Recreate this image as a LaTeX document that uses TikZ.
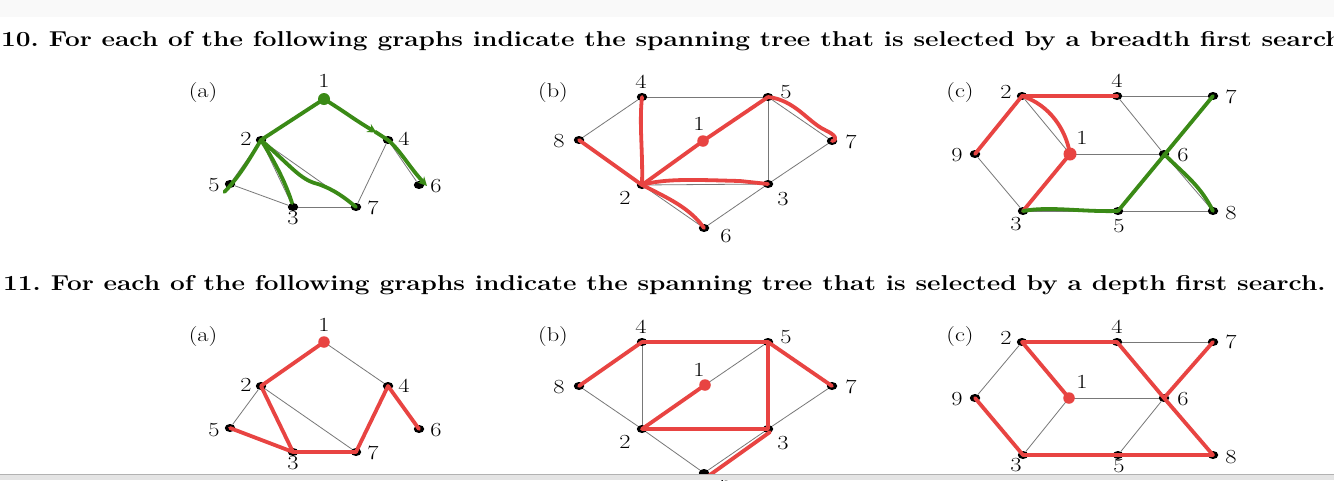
\documentclass[tikz,border=0pt]{standalone}
\usepackage{fontspec}
\setmainfont{Latin Modern Roman}[FakeStretch=1.22]
\usetikzlibrary{calc,arrows.meta,shapes.geometric}
\definecolor{hred}{RGB}{232,68,66}
\definecolor{hgrn}{RGB}{58,138,22}
\definecolor{edgegray}{RGB}{120,120,120}
\definecolor{topband}{RGB}{249,249,249}
\definecolor{botband}{RGB}{228,228,228}
\tikzset{
  dot/.style={ellipse, fill=black, inner sep=0pt, minimum width=10.5pt, minimum height=8pt},
  rootred/.style={circle, fill=hred, inner sep=0pt, minimum size=11.5pt},
  rootgrn/.style={circle, fill=hgrn, inner sep=0pt, minimum size=12pt},
  lab/.style={inner sep=0pt, font=\fontsize{20}{24}\selectfont},
  edge/.style={draw=edgegray, line width=0.8pt},
  rd/.style={draw=hred, line width=3.8pt, line cap=round, line join=round},
  gn/.style={draw=hgrn, line width=3.8pt, line cap=round, line join=round},
  qtext/.style={anchor=base west, inner sep=0pt, font=\fontsize{21.5}{26}\selectfont\bfseries},
}
\begin{document}
\begin{tikzpicture}[x=1pt,y=-1pt]
\useasboundingbox (0,0) rectangle (1334,480);
\clip (0,0) rectangle (1334,480);
\fill[white] (0,0) rectangle (1334,480);
\fill[topband] (0,0) rectangle (1334,17);

% question texts
\node[qtext] (q10) at (1,46) {10.\hspace{10pt}For each of the following graphs indicate the spanning tree that is selected by a breadth first search};
\node[qtext] (q11) at (3,290) {11.\hspace{10pt}For each of the following graphs indicate the spanning tree that is selected by a depth first search.};

% ================= 10(a) =================
\node[lab] (la) at (203,93) {(a)};
\node[dot] (A1) at (324,99) {};
\node[dot] (A2) at (261,140) {};
\node[dot] (A4) at (388,140) {};
\node[dot] (A5) at (230,184) {};
\node[dot] (A6) at (419,185) {};
\node[dot] (A3) at (293,207) {};
\node[dot] (A7) at (356,207) {};
\node[lab] at (324,81) {1};
\node[lab] at (246,139) {2};
\node[lab] at (404,139) {4};
\node[lab] at (214,185) {5};
\node[lab] at (436,186) {6};
\node[lab] at (293,218) {3};
\node[lab] at (373,208) {7};
\foreach \u/\v in {A1/A2,A1/A4,A2/A5,A2/A3,A2/A7,A5/A3,A3/A7,A7/A4,A4/A6}
  \draw[edge] (\u) -- (\v);
\draw[gn] (A1.center) -- (A2.center);
\draw[gn,-{Stealth[length=9pt,width=9pt]}] (A1.center) .. controls (345,112) and (355,120) .. ($(A1)!0.82!(A4)$);
\draw[gn] ($(A1)!0.8!(A4)$) -- (A4.center);
\draw[gn,-{Stealth[length=9pt,width=9pt]}] (A4.center) .. controls (400,150) and (410,168) .. ($(A6)+(8,1)$);
\draw[gn] (A2.center) .. controls (250,158) and (240,176) .. ($(A2)!1.18!(A5)$);
\draw[gn] (A2.center) .. controls (280,170) and (288,190) .. ($(A3)+(-1,-4)$);
\draw[gn] (A2.center) .. controls (290,165) and (300,180) .. (318,184) .. controls (335,190) and (345,198) .. (A7.center);
\node[rootgrn] at (A1) {};

% ================= 10(b) =================
\node[lab] (lb) at (553,93) {(b)};
\node[dot] (B4) at (642,97) {};
\node[dot] (B5) at (768,97) {};
\node[dot] (B8) at (579,140) {};
\node[dot] (B1) at (703,141) {};
\node[dot] (B7) at (832,141) {};
\node[dot] (B2) at (642,185) {};
\node[dot] (B3) at (768,184) {};
\node[dot] (B6) at (704,228) {};
\node[lab] at (641,82) {4};
\node[lab] at (786,92) {5};
\node[lab] at (559,141) {8};
\node[lab] at (699,124) {1};
\node[lab] at (851,142) {7};
\node[lab] at (625,198) {2};
\node[lab] at (783,199) {3};
\node[lab] at (726,236) {6};
\foreach \u/\v in {B4/B5,B4/B8,B4/B2,B8/B2,B2/B1,B1/B5,B5/B3,B5/B7,B7/B3,B2/B3,B2/B6,B6/B3}
  \draw[edge] (\u) -- (\v);
\draw[rd] (B2.center) .. controls (643,150) and (639,125) .. (B4.center);
\draw[rd] (B2.center) -- (B8.center);
\draw[rd] (B2.center) -- (B1.center) -- (B5.center);
\draw[rd] (B5.center) .. controls (795,100) and (808,122) .. (825,130) .. controls (836,135) and (838,140) .. (B7.center);
\draw[rd] (B2.center) .. controls (665,178) and (700,180) .. (740,181) -- (B3.center);
\draw[rd] (B2.center) .. controls (668,198) and (690,208) .. (B6.center);
\node[rootred] at (B1) {};

% ================= 10(c) =================
\node[lab] (lc) at (960,93) {(c)};
\node[dot] (C2) at (1022,96) {};
\node[dot] (C4) at (1117,96) {};
\node[dot] (C7) at (1213,96) {};
\node[dot] (C9) at (975,154) {};
\node[dot] (C1) at (1070,154) {};
\node[dot] (C6) at (1164,154) {};
\node[dot] (C3) at (1023,211) {};
\node[dot] (C5) at (1118,211) {};
\node[dot] (C8) at (1213,211) {};
\node[lab] at (1006,92) {2};
\node[lab] at (1117,81) {4};
\node[lab] at (1231,97) {7};
\node[lab] at (957,155) {9};
\node[lab] at (1082,138) {1};
\node[lab] at (1183,155) {6};
\node[lab] at (1016,224) {3};
\node[lab] at (1119,226) {5};
\node[lab] at (1231,213) {8};
\foreach \u/\v in {C2/C4,C4/C7,C2/C9,C2/C1,C9/C3,C1/C3,C1/C6,C4/C6,C6/C7,C6/C8,C6/C5,C3/C5,C5/C8}
  \draw[edge] (\u) -- (\v);
\draw[rd] (C2.center) -- (C4.center);
\draw[rd] (C2.center) -- (C9.center);
\draw[rd] (C2.center) .. controls (1050,105) and (1066,130) .. (C1.center);
\draw[rd] (C1.center) -- (C3.center);
\draw[gn] (C3.center) .. controls (1050,206) and (1080,212) .. (C5.center);
\draw[gn] (C5.center) -- (C7.center);
\draw[gn] (C6.center) .. controls (1185,175) and (1200,185) .. (C8.center);
\node[rootred, minimum size=13pt] at (C1) {};

% ================= 11(a) =================
\node[lab] (la2) at (203,337) {(a)};
\node[dot] (D1) at (324,342) {};
\node[dot] (D2) at (261,386) {};
\node[dot] (D4) at (388,386) {};
\node[dot] (D5) at (230,428) {};
\node[dot] (D6) at (419,429) {};
\node[dot] (D3) at (293,452) {};
\node[dot] (D7) at (356,452) {};
\node[lab] at (324,325) {1};
\node[lab] at (246,385) {2};
\node[lab] at (404,386) {4};
\node[lab] at (214,430) {5};
\node[lab] at (436,430) {6};
\node[lab] at (293,463) {3};
\node[lab] at (373,453) {7};
\foreach \u/\v in {D1/D2,D1/D4,D2/D5,D2/D3,D2/D7,D5/D3,D3/D7,D7/D4,D4/D6}
  \draw[edge] (\u) -- (\v);
\draw[rd] (D1.center) -- (D2.center) -- (D3.center) -- (D5.center);
\draw[rd] (D3.center) -- (D7.center) -- (D4.center) -- (D6.center);
\node[rootred] at (D1) {};

% ================= 11(b) =================
\node[lab] (lb2) at (553,337) {(b)};
\node[dot] (E4) at (642,342) {};
\node[dot] (E5) at (768,342) {};
\node[dot] (E8) at (579,386) {};
\node[dot] (E1) at (705,385) {};
\node[dot] (E7) at (832,386) {};
\node[dot] (E2) at (642,429) {};
\node[dot] (E3) at (768,429) {};
\node[dot] (E6) at (704,473) {};
\node[lab] at (641,327) {4};
\node[lab] at (786,337) {5};
\node[lab] at (559,387) {8};
\node[lab] at (699,370) {1};
\node[lab] at (851,387) {7};
\node[lab] at (625,442) {2};
\node[lab] at (783,443) {3};
\node[lab] at (726,483) {6};
\foreach \u/\v in {E4/E5,E4/E8,E4/E2,E8/E2,E2/E1,E1/E5,E5/E3,E5/E7,E7/E3,E2/E3,E2/E6,E6/E3}
  \draw[edge] (\u) -- (\v);
\draw[rd] (E8.center) -- (E4.center) -- (E5.center) -- (E7.center);
\draw[rd] (E5.center) -- (E3.center) -- (E2.center) -- (E1.center);
\draw[rd] ($(E3.center)+(2,3)$) -- ($(E6.center)+(3,4)$);
\node[rootred] at (E1) {};

% ================= 11(c) =================
\node[lab] (lc2) at (960,337) {(c)};
\node[dot] (F2) at (1022,342) {};
\node[dot] (F4) at (1117,342) {};
\node[dot] (F7) at (1213,342) {};
\node[dot] (F9) at (975,398) {};
\node[dot] (F1) at (1069,398) {};
\node[dot] (F6) at (1164,398) {};
\node[dot] (F3) at (1023,455) {};
\node[dot] (F5) at (1118,455) {};
\node[dot] (F8) at (1213,455) {};
\node[lab] at (1006,338) {2};
\node[lab] at (1117,327) {4};
\node[lab] at (1231,342) {7};
\node[lab] at (957,399) {9};
\node[lab] at (1082,382) {1};
\node[lab] at (1183,399) {6};
\node[lab] at (1016,465) {3};
\node[lab] at (1119,466) {5};
\node[lab] at (1231,457) {8};
\foreach \u/\v in {F2/F4,F4/F7,F2/F9,F2/F1,F9/F3,F1/F3,F1/F6,F4/F6,F6/F7,F6/F8,F6/F5,F3/F5,F5/F8}
  \draw[edge] (\u) -- (\v);
\draw[rd] (F1.center) -- (F2.center) -- (F4.center) -- (F6.center) -- (F8.center) -- (F5.center) -- (F3.center) -- (F9.center);
\draw[rd] (F6.center) -- (F7.center);
\node[rootred] at (F1) {};

% bottom band
\fill[botband] (0,474) rectangle (1334,480);
\draw[gray!60, line width=0.6pt] (0,474) -- (1334,474);
\end{tikzpicture}
\end{document}
